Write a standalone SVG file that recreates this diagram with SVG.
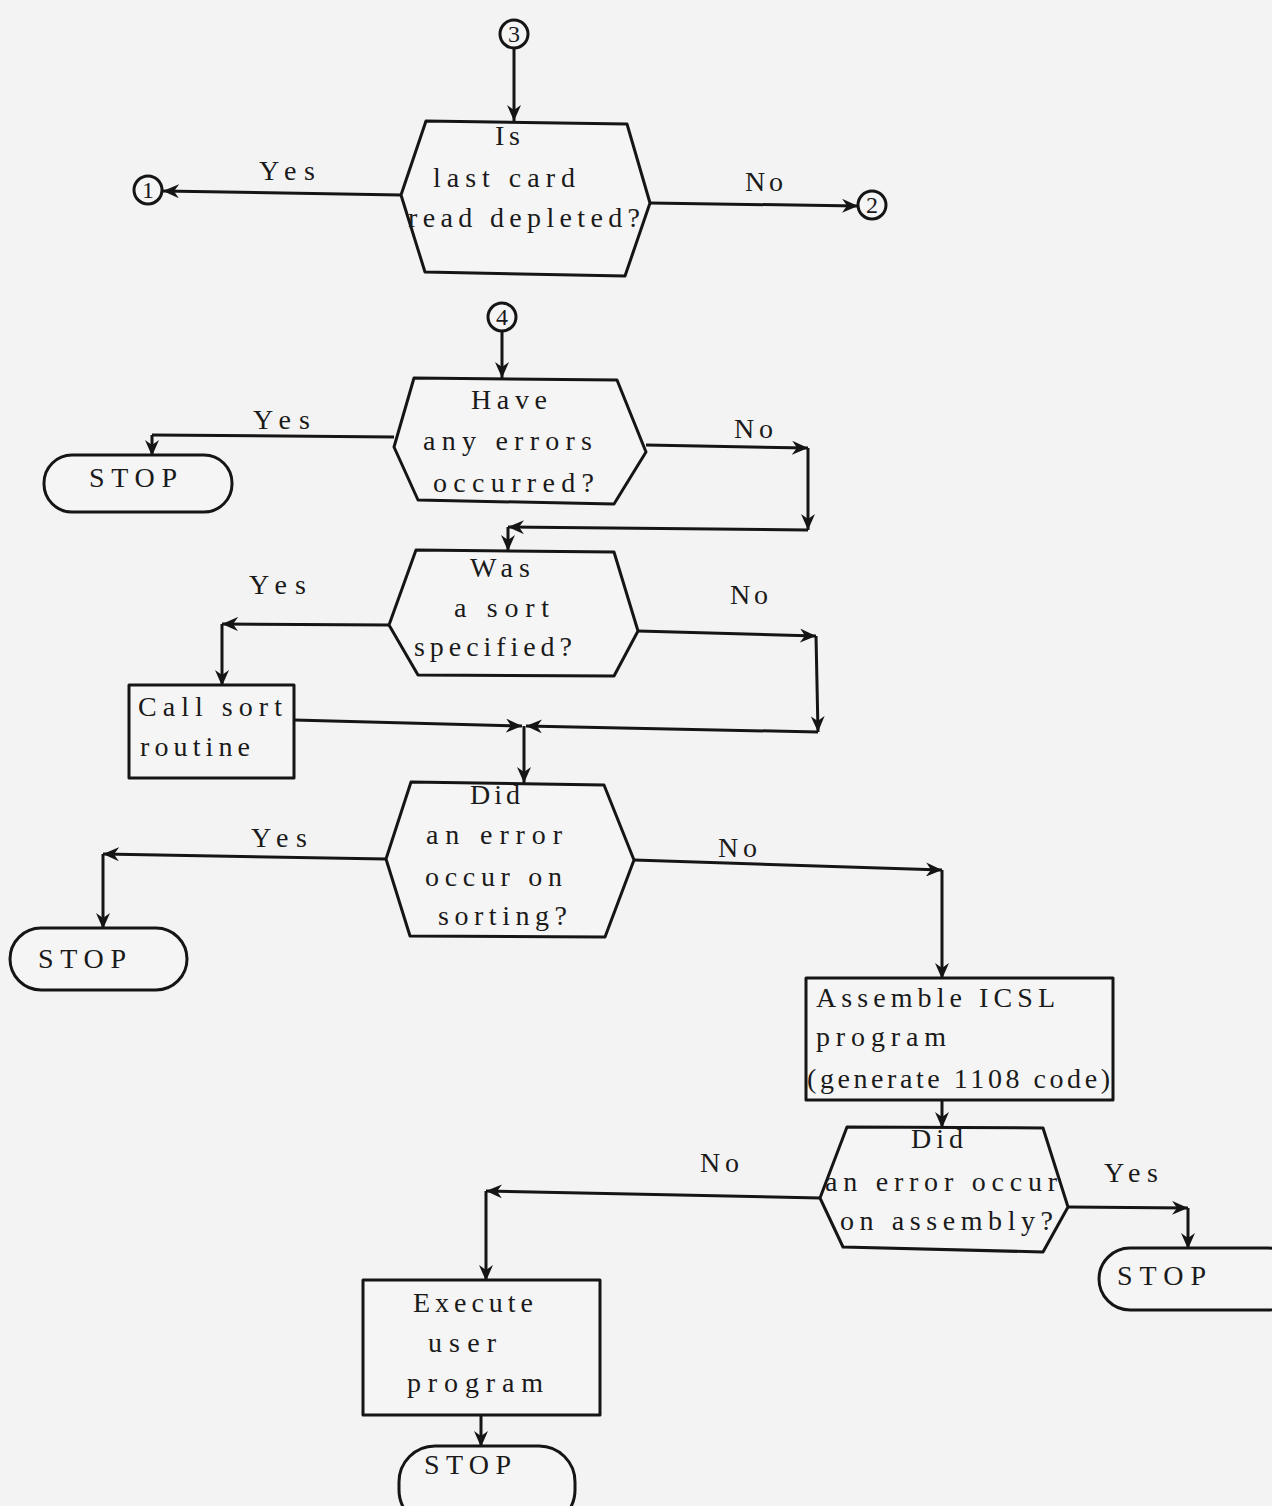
<svg xmlns="http://www.w3.org/2000/svg" width="1272" height="1506" viewBox="0 0 1272 1506">
<style>
.bg{fill:#f3f3f3}
.sh{fill:#f5f5f5;stroke:#151515;stroke-width:3;stroke-linejoin:round}
.cn{fill:none;stroke:#151515;stroke-width:3}
.ar{marker-end:url(#ah)}
text{font-family:"Liberation Serif","DejaVu Serif",serif;font-size:28px;fill:#1a1a1a}
.num{font-size:24px;text-anchor:middle}
</style>
<defs>
<marker id="ah" markerUnits="userSpaceOnUse" markerWidth="18" markerHeight="14" refX="16" refY="7" orient="auto">
<path d="M0,0 L16,7 L0,14 L5,7 z" fill="#151515"/>
</marker>
</defs>
<rect class="bg" x="0" y="0" width="1272" height="1506"/>

<g id="connectors">
<path class="cn ar" d="M514,48 L514,121"/>
<path class="cn ar" d="M401,195 L163,191"/>
<path class="cn ar" d="M650,203 L858,206"/>
<path class="cn ar" d="M502,331 L502,378"/>
<path class="cn" d="M394,437 L152,435"/>
<path class="cn ar" d="M152,435 L152,456"/>
<path class="cn ar" d="M646,445 L808,448"/>
<path class="cn ar" d="M808,448 L808,530"/>
<path class="cn ar" d="M808,530 L508,527"/>
<path class="cn ar" d="M508,527 L508,551"/>
<path class="cn ar" d="M389,625 L222,624"/>
<path class="cn ar" d="M222,624 L222,686"/>
<path class="cn ar" d="M638,631 L816,636"/>
<path class="cn ar" d="M816,636 L818,732"/>
<path class="cn ar" d="M818,732 L526,726"/>
<path class="cn ar" d="M294,720 L522,726"/>
<path class="cn ar" d="M524,726 L524,783"/>
<path class="cn ar" d="M386,859 L103,854"/>
<path class="cn ar" d="M103,854 L103,929"/>
<path class="cn ar" d="M634,860 L942,870"/>
<path class="cn ar" d="M942,870 L942,979"/>
<path class="cn ar" d="M942,1100 L942,1128"/>
<path class="cn ar" d="M1068,1207 L1188,1208"/>
<path class="cn ar" d="M1188,1208 L1188,1249"/>
<path class="cn ar" d="M820,1198 L486,1191"/>
<path class="cn ar" d="M486,1191 L486,1281"/>
<path class="cn ar" d="M481,1415 L481,1447"/>
</g>

<g id="labels">
<text x="259" y="180" textLength="56" lengthAdjust="spacing">Yes</text>
<text x="745" y="191" textLength="38" lengthAdjust="spacing">No</text>
<text x="253" y="429" textLength="57" lengthAdjust="spacing">Yes</text>
<text x="734" y="438" textLength="39" lengthAdjust="spacing">No</text>
<text x="249" y="594" textLength="57" lengthAdjust="spacing">Yes</text>
<text x="730" y="604" textLength="38" lengthAdjust="spacing">No</text>
<text x="251" y="847" textLength="56" lengthAdjust="spacing">Yes</text>
<text x="718" y="857" textLength="39" lengthAdjust="spacing">No</text>
<text x="1104" y="1182" textLength="54" lengthAdjust="spacing">Yes</text>
<text x="700" y="1172" textLength="39" lengthAdjust="spacing">No</text>
</g>

<g id="c3"><circle class="sh" cx="514" cy="34" r="14" stroke-width="2"/><text class="num" x="514" y="42">3</text></g>
<g id="c1"><circle class="sh" cx="148" cy="190" r="14" stroke-width="2"/><text class="num" x="148" y="198">1</text></g>
<g id="c2"><circle class="sh" cx="872" cy="205" r="14" stroke-width="2"/><text class="num" x="872" y="213">2</text></g>
<g id="c4"><circle class="sh" cx="502" cy="317" r="14" stroke-width="2"/><text class="num" x="502" y="325">4</text></g>

<g id="d1">
<polygon class="sh" points="426,121 627,124 650,203 625,276 425,272 401,195"/>
<text x="495" y="145" textLength="25" lengthAdjust="spacing">Is</text>
<text x="433" y="187" textLength="142" lengthAdjust="spacing">last card</text>
<text x="408" y="227" textLength="232" lengthAdjust="spacing">read depleted?</text>
</g>

<g id="d2">
<polygon class="sh" points="414,378 617,380 646,452 614,504 418,500 394,447"/>
<text x="471" y="409" textLength="76" lengthAdjust="spacing">Have</text>
<text x="423" y="450" textLength="169" lengthAdjust="spacing">any errors</text>
<text x="433" y="492" textLength="161" lengthAdjust="spacing">occurred?</text>
</g>

<g id="stop1">
<rect class="sh" x="44" y="455" width="188" height="57" rx="28"/>
<text x="89" y="487" textLength="88" lengthAdjust="spacing">STOP</text>
</g>

<g id="d3">
<polygon class="sh" points="416,550 614,552 638,631 614,676 418,675 389,625"/>
<text x="470" y="577" textLength="60" lengthAdjust="spacing">Was</text>
<text x="454" y="617" textLength="95" lengthAdjust="spacing">a sort</text>
<text x="414" y="656" textLength="158" lengthAdjust="spacing">specified?</text>
</g>

<g id="sortbox">
<rect class="sh" x="129" y="685" width="165" height="93"/>
<text x="138" y="716" textLength="144" lengthAdjust="spacing">Call sort</text>
<text x="140" y="756" textLength="110" lengthAdjust="spacing">routine</text>
</g>

<g id="d4">
<polygon class="sh" points="411,782 604,785 634,860 605,937 410,936 386,859"/>
<text x="470" y="804" textLength="50" lengthAdjust="spacing">Did</text>
<text x="426" y="844" textLength="136" lengthAdjust="spacing">an error</text>
<text x="425" y="886" textLength="137" lengthAdjust="spacing">occur on</text>
<text x="438" y="925" textLength="129" lengthAdjust="spacing">sorting?</text>
</g>

<g id="stop2">
<rect class="sh" x="10" y="928" width="177" height="62" rx="31"/>
<text x="38" y="968" textLength="88" lengthAdjust="spacing">STOP</text>
</g>

<g id="assemble">
<rect class="sh" x="806" y="978" width="307" height="122"/>
<text x="816" y="1007" textLength="239" lengthAdjust="spacing">Assemble ICSL</text>
<text x="816" y="1046" textLength="130" lengthAdjust="spacing">program</text>
<text x="807" y="1088" textLength="303" lengthAdjust="spacing">(generate 1108 code)</text>
</g>

<g id="d5">
<polygon class="sh" points="847,1127 1043,1128 1068,1207 1043,1252 843,1247 820,1198"/>
<text x="911" y="1148" textLength="52" lengthAdjust="spacing">Did</text>
<text x="825" y="1191" textLength="232" lengthAdjust="spacing">an error occur</text>
<text x="840" y="1230" textLength="213" lengthAdjust="spacing">on assembly?</text>
</g>

<g id="stop3">
<rect class="sh" x="1099" y="1248" width="200" height="62" rx="31"/>
<text x="1117" y="1285" textLength="89" lengthAdjust="spacing">STOP</text>
</g>

<g id="execute">
<rect class="sh" x="363" y="1280" width="237" height="135"/>
<text x="413" y="1312" textLength="120" lengthAdjust="spacing">Execute</text>
<text x="428" y="1352" textLength="68" lengthAdjust="spacing">user</text>
<text x="407" y="1392" textLength="136" lengthAdjust="spacing">program</text>
</g>

<g id="stop4">
<rect class="sh" x="399" y="1446" width="176" height="80" rx="36"/>
<text x="424" y="1474" textLength="87" lengthAdjust="spacing">STOP</text>
</g>
</svg>
